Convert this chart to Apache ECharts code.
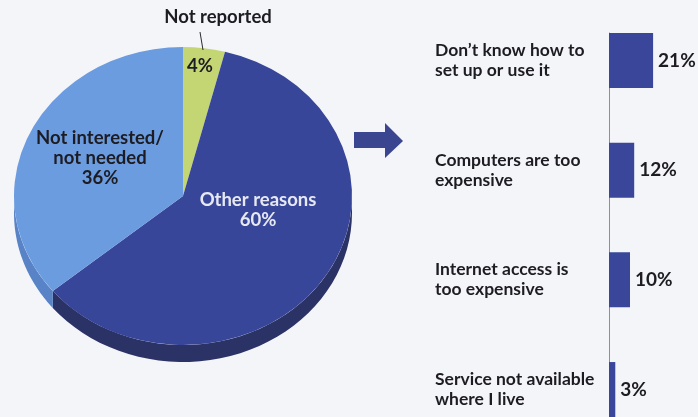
<!DOCTYPE html>
<html>
<head>
<meta charset="utf-8">
<script src="https://cdn.jsdelivr.net/npm/echarts@6/dist/echarts.min.js"></script>
<style>
  html, body { margin: 0; padding: 0; background: #f4f5f8; }
  #chart { width: 698px; height: 417px; }
</style>
</head>
<body>
<div id="chart"></div>
<script>
// Reasons for not having Internet access at home
const pieNames = ['Not reported', 'Other reasons', 'Not interested/\nnot needed'];
const pieValues = [4, 60, 36];

// Breakdown of "Other reasons"
const barCategories = [
  'Don\u2019t know how to\nset up or use it',
  'Computers are too\nexpensive',
  'Internet access is\ntoo expensive',
  'Service not available\nwhere I live'
];
const barValues = [21, 12, 10, 3];

const FONT = 'Lato, "Open Sans", sans-serif';

// tilted pie geometry
const PIE = { cx: 183, cy: 196, rx: 169, ry: 149, depth: 17 };
const topColors = ['#c4d574', '#38469a', '#6c9ce0'];
const sideColors = ['#9aaa55', '#2b3266', '#5883c6'];

const pieTotal = pieValues.reduce((a, b) => a + b, 0);
const pieCum = [];
pieValues.reduce((acc, v, i) => { pieCum[i] = acc; return acc + v; }, 0);

function sliceAngles(i, v) {
  const a0 = -Math.PI / 2 + 2 * Math.PI * pieCum[i] / pieTotal;
  const a1 = -Math.PI / 2 + 2 * Math.PI * (pieCum[i] + v) / pieTotal;
  return [a0, a1];
}

function renderSlice(params, api) {
  const i = params.dataIndex;
  const v = api.value(0);
  const [a0, a1] = sliceAngles(i, v);
  const children = [];

  // visible front wall of the slice (lower half of the ellipse)
  const s = Math.max(a0, 0), e = Math.min(a1, Math.PI);
  if (e > s) {
    const n = 40, top = [], bottom = [];
    for (let k = 0; k <= n; k++) {
      const t = s + (e - s) * k / n;
      const x = PIE.cx + PIE.rx * Math.cos(t);
      const y = PIE.cy + PIE.ry * Math.sin(t);
      top.push([x, y]);
      bottom.push([x, y + PIE.depth]);
    }
    children.push({
      type: 'polygon',
      z2: 1,
      shape: { points: top.concat(bottom.reverse()) },
      style: { fill: sideColors[i] }
    });
  }

  // top face
  children.push({
    type: 'sector',
    z2: 10,
    x: PIE.cx,
    y: PIE.cy,
    scaleY: PIE.ry / PIE.rx,
    shape: { cx: 0, cy: 0, r: PIE.rx, r0: 0, startAngle: a0, endAngle: a1, clockwise: true },
    style: { fill: topColors[i] }
  });
  return { type: 'group', children };
}

const pieLabel = (txt, x, y, color) => ({
  type: 'text',
  z: 100,
  x, y,
  style: {
    text: txt,
    fill: color,
    font: 'bold 18.5px ' + FONT,
    textAlign: 'center',
    textVerticalAlign: 'middle',
    lineHeight: 20
  }
});

const chart = echarts.init(document.getElementById('chart'));
chart.setOption({
  backgroundColor: '#f4f5f8',
  animation: false,
  grid: [
    { left: 609, top: 5.6, width: 84, height: 438.8, outerBoundsMode: 'none' },
    { left: 609, top: 33, width: 84, height: 400, outerBoundsMode: 'none' }
  ],
  xAxis: [
    { gridIndex: 0, type: 'value', min: 0, max: 40, show: false },
    { gridIndex: 1, type: 'value', min: 0, max: 40, show: false }
  ],
  yAxis: [
    {
      gridIndex: 0,
      type: 'category',
      inverse: true,
      data: barCategories,
      axisLine: { show: false },
      axisTick: { show: false },
      axisLabel: {
        align: 'left',
        margin: 174,
        color: '#1c1c22',
        fontFamily: FONT,
        fontWeight: 'bold',
        fontSize: 17.5,
        lineHeight: 20
      }
    },
    {
      gridIndex: 1,
      type: 'value',
      min: 0,
      max: 1,
      axisLine: { show: true, lineStyle: { color: '#8a90a4', width: 1 } },
      axisTick: { show: false },
      axisLabel: { show: false },
      splitLine: { show: false }
    }
  ],
  series: [
    {
      type: 'custom',
      coordinateSystem: 'none',
      renderItem: renderSlice,
      data: pieValues.map((v, i) => ({ value: v, name: pieNames[i] }))
    },
    {
      type: 'bar',
      xAxisIndex: 0,
      yAxisIndex: 0,
      data: barValues,
      barWidth: 55,
      itemStyle: { color: '#39469a' },
      label: {
        show: true,
        position: 'right',
        distance: 5,
        formatter: '{c}%',
        color: '#1c1c22',
        fontFamily: FONT,
        fontWeight: 'bold',
        fontSize: 19
      }
    }
  ],
  graphic: [
    pieLabel(pieNames[0], 218, 17, '#1c1c22'),
    {
      type: 'line',
      z: 100,
      shape: { x1: 200, y1: 32, x2: 203, y2: 50 },
      style: { stroke: '#2a2a30', lineWidth: 1 }
    },
    pieLabel(pieValues[0] + '%', 200, 66, '#1c1c22'),
    pieLabel(pieNames[2] + '\n' + pieValues[2] + '%', 100, 158, '#1c1c22'),
    pieLabel(pieNames[1] + '\n' + pieValues[1] + '%', 258, 210, '#e6e9f2'),
    // arrow pointing from the pie to the breakdown
    {
      type: 'polygon',
      z: 100,
      shape: {
        points: [[354, 132], [385, 132], [385, 123], [403, 141], [385, 158], [385, 148], [354, 148]]
      },
      style: { fill: '#3a4690' }
    }
  ]
});
</script>
</body>
</html>
